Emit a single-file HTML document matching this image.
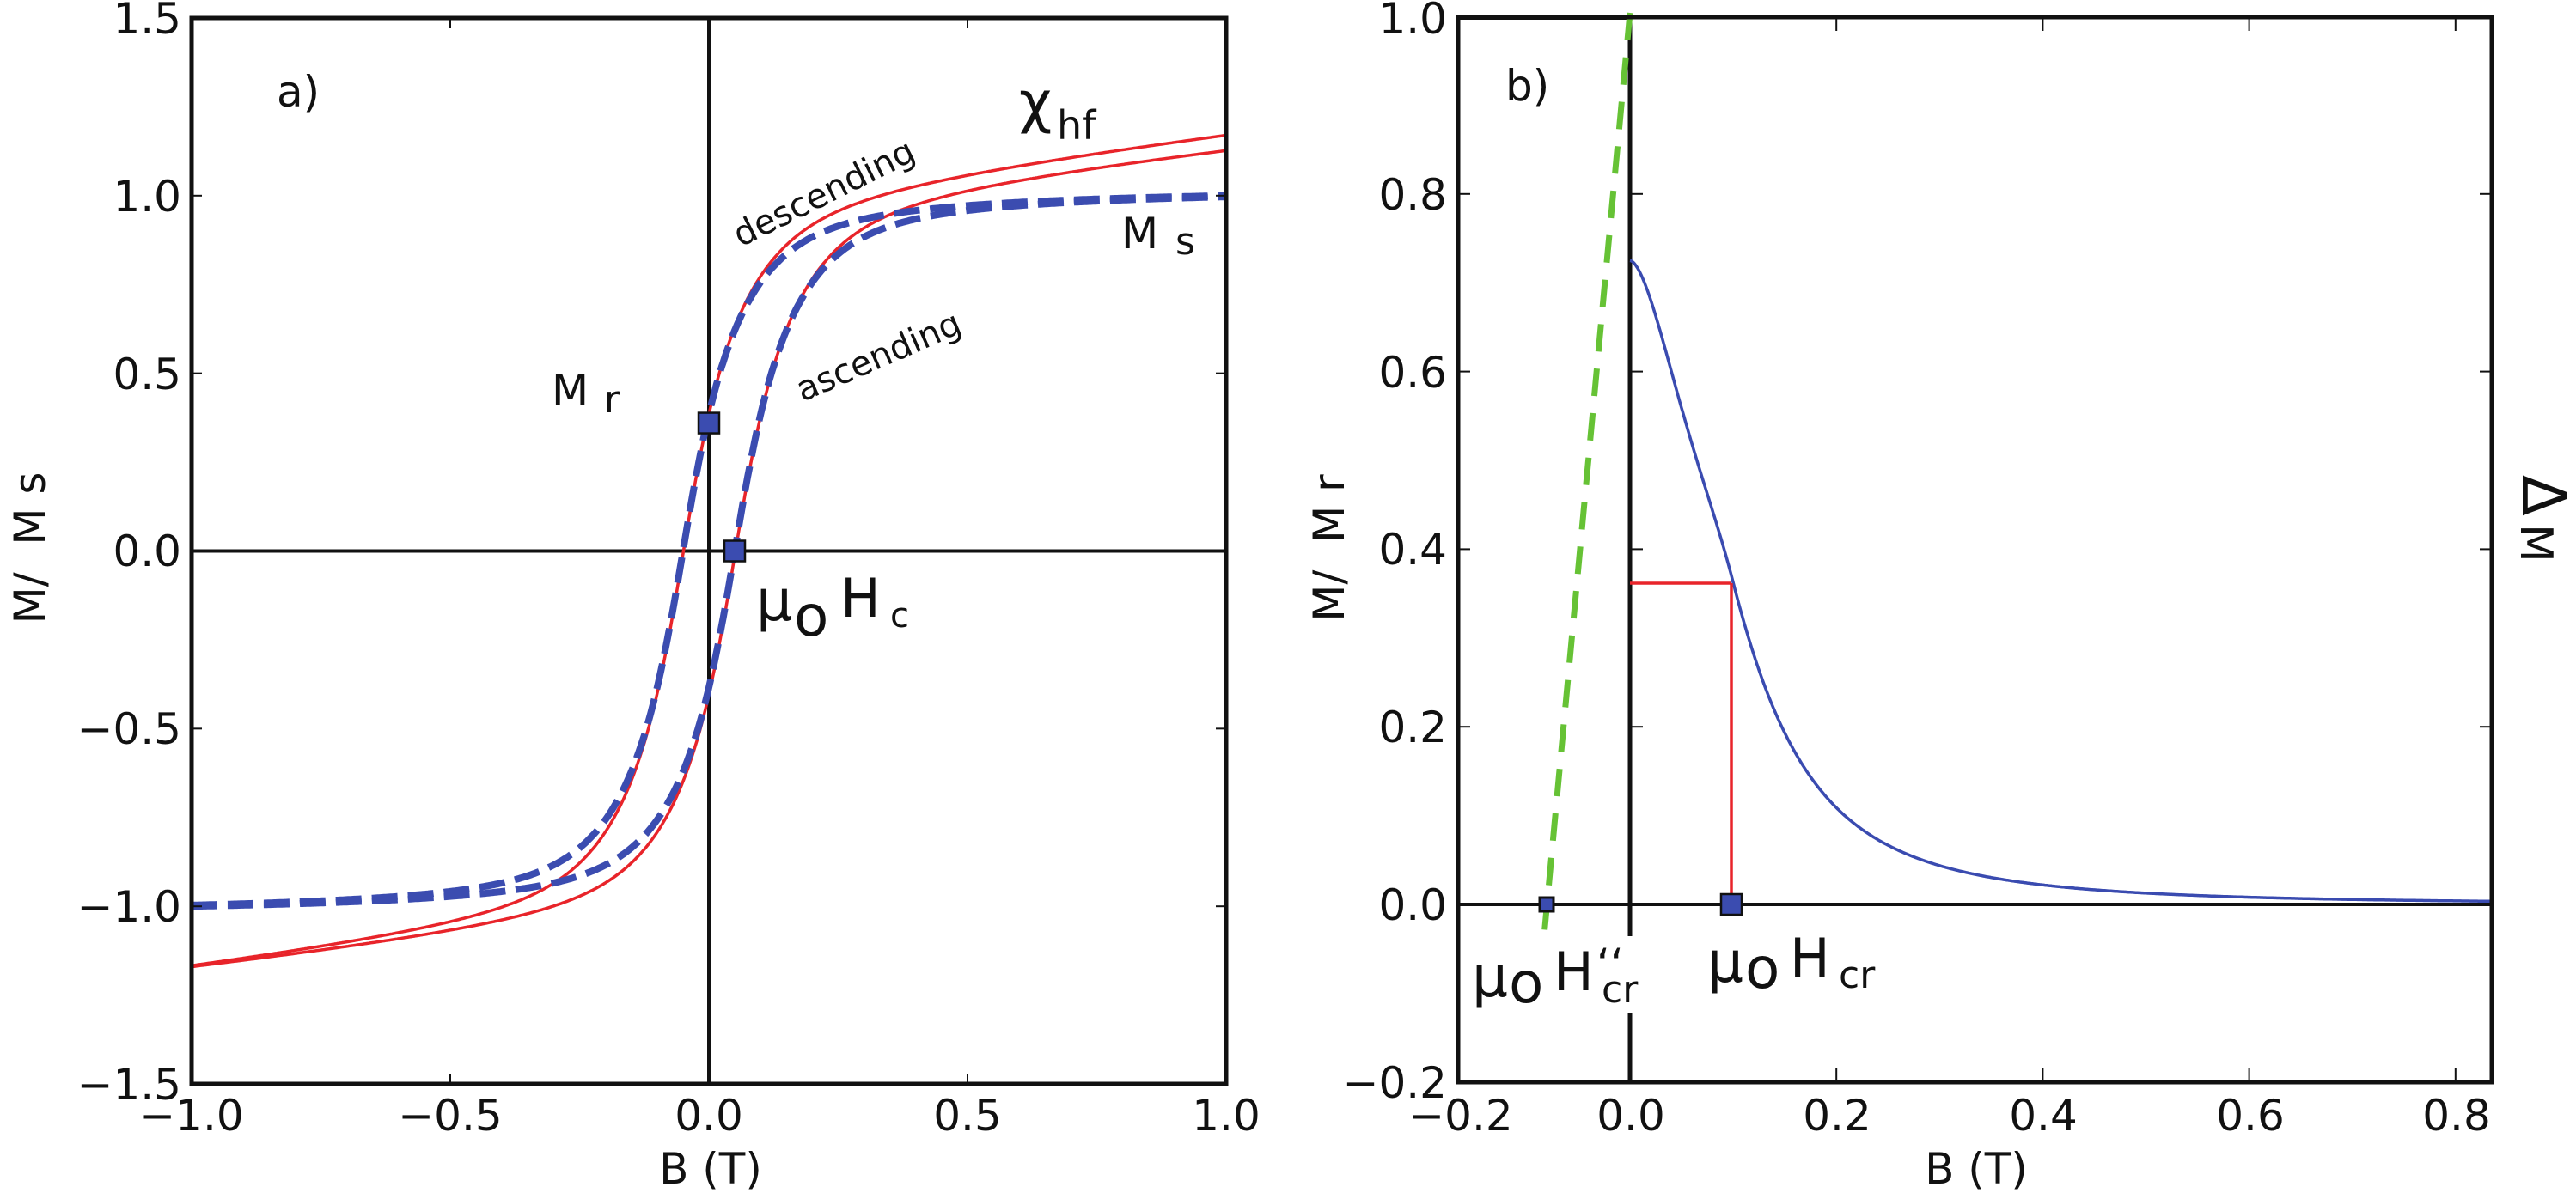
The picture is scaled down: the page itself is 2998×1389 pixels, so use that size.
<!DOCTYPE html>
<html><head><meta charset="utf-8"><style>
html,body{margin:0;padding:0;background:#fff}
svg{display:block}
text{font-family:"DejaVu Sans","Liberation Sans",sans-serif;fill:#111;white-space:pre}
</style></head><body>
<svg id="s" width="2998" height="1389" viewBox="0 0 2998 1389" xmlns="http://www.w3.org/2000/svg">
<g id="g"></g>
<g font-size="50">
<text x="211" y="39" text-anchor="end">1.5</text>
<text x="211" y="246" text-anchor="end">1.0</text>
<text x="211" y="453" text-anchor="end">0.5</text>
<text x="211" y="659" text-anchor="end">0.0</text>
<text x="211" y="866" text-anchor="end">−0.5</text>
<text x="211" y="1073" text-anchor="end">−1.0</text>
<text x="211" y="1280" text-anchor="end">−1.5</text>
<text x="223" y="1316" text-anchor="middle">−1.0</text>
<text x="524" y="1316" text-anchor="middle">−0.5</text>
<text x="825" y="1316" text-anchor="middle">0.0</text>
<text x="1126" y="1316" text-anchor="middle">0.5</text>
<text x="1427" y="1316" text-anchor="middle">1.0</text>
<text x="827" y="1378" text-anchor="middle">B (T)</text>
<text transform="translate(52,638) rotate(-90)" text-anchor="middle">M/&#160;&#160;M&#160;s</text>
<text x="322" y="124">a)</text>
</g>
<text x="1186" y="142" font-size="66">χ</text>
<text x="1230" y="162" font-size="46">hf</text>
<text transform="translate(862,288) rotate(-26.5)" font-size="40">descending</text>
<text transform="translate(934,468) rotate(-23.5)" font-size="40">ascending</text>
<text x="1305" y="289" font-size="50">M</text>
<text x="1368" y="296" font-size="44">s</text>
<text x="642" y="472" font-size="50">M</text>
<text x="703" y="480" font-size="44">r</text>
<text x="880" y="722" font-size="66">μ</text>
<text x="924" y="740" font-size="66">o</text>
<text x="978" y="718" font-size="62">H</text>
<text x="1036" y="730" font-size="40">c</text>
<g font-size="50">
<text x="1684" y="39" text-anchor="end">1.0</text>
<text x="1684" y="244" text-anchor="end">0.8</text>
<text x="1684" y="451" text-anchor="end">0.6</text>
<text x="1684" y="657" text-anchor="end">0.4</text>
<text x="1684" y="864" text-anchor="end">0.2</text>
<text x="1684" y="1071" text-anchor="end">0.0</text>
<text x="1684" y="1278" text-anchor="end">−0.2</text>
<text x="1700" y="1316" text-anchor="middle">−0.2</text>
<text x="1898" y="1316" text-anchor="middle">0.0</text>
<text x="2138" y="1316" text-anchor="middle">0.2</text>
<text x="2378" y="1316" text-anchor="middle">0.4</text>
<text x="2619" y="1316" text-anchor="middle">0.6</text>
<text x="2859" y="1316" text-anchor="middle">0.8</text>
<text x="2300" y="1378" text-anchor="middle">B (T)</text>
<text transform="translate(1564,638) rotate(-90)" text-anchor="middle">M/&#160;&#160;M&#160;r</text>
<text x="1752" y="117">b)</text>
</g>
<text transform="translate(2936,553) rotate(90)" font-size="70">Δ</text>
<text transform="translate(2934,610) rotate(90)" font-size="52">M</text>
<text x="1713" y="1160" font-size="66">μ</text>
<text x="1756" y="1167" font-size="66">o</text>
<text x="1808" y="1153" font-size="62">H</text>
<text x="1858" y="1140" font-size="50">‘‘</text>
<text x="1864" y="1167" font-size="44">cr</text>
<text x="1987" y="1143" font-size="66">μ</text>
<text x="2031" y="1150" font-size="66">o</text>
<text x="2083" y="1137" font-size="62">H</text>
<text x="2140" y="1150" font-size="44">cr</text>
</svg>
<script>
(function(){
var NS="http://www.w3.org/2000/svg",g=document.getElementById("g");
function el(t,a){var e=document.createElementNS(NS,t);for(var k in a)e.setAttribute(k,a[k]);g.appendChild(e);return e;}
function line(x1,y1,x2,y2,w,c){el("line",{x1:x1,y1:y1,x2:x2,y2:y2,stroke:c||"#111","stroke-width":w});}
var L={x0:223,x1:1427,y0:21,y1:1262};
function lx(b){return 825+b*602;} function ly(m){return 641.5-m*413.7;}
function F0(x){return 0.7*(2/Math.PI)*Math.atan(x/0.07)+0.3*Math.tanh(x/0.15);}
var N=F0(1.05);function F(x){return F0(x)/N;}
function pathL(fn){var d="";for(var i=0;i<=800;i++){var b=-1+i/400;d+=(i?"L":"M")+lx(b).toFixed(1)+","+ly(fn(b)).toFixed(1);}return d;}
var cl=el("clipPath",{id:"cl"});var r=document.createElementNS(NS,"rect");r.setAttribute("x",L.x0);r.setAttribute("y",L.y0);r.setAttribute("width",L.x1-L.x0);r.setAttribute("height",L.y1-L.y0);cl.appendChild(r);
line(825,L.y0,825,L.y1,4);line(L.x0,641.5,L.x1,641.5,4);
el("path",{d:pathL(function(b){return F(b+0.05)+0.17*b;}),fill:"none",stroke:"#e8242a","stroke-width":3.5,"clip-path":"url(#cl)"});
el("path",{d:pathL(function(b){return F(b-0.05)+0.15*b-0.02;}),fill:"none",stroke:"#e8242a","stroke-width":3.5,"clip-path":"url(#cl)"});
el("path",{d:pathL(function(b){return F(b+0.05);}),fill:"none",stroke:"#3b4cb0","stroke-width":8,"stroke-dasharray":"30 12","clip-path":"url(#cl)"});
el("path",{d:pathL(function(b){return F(b-0.05);}),fill:"none",stroke:"#3b4cb0","stroke-width":8,"stroke-dasharray":"30 12","clip-path":"url(#cl)"});
el("rect",{x:825-12,y:ly(0.36)-12,width:24,height:24,fill:"#3b4cb0",stroke:"#111","stroke-width":2.5});
el("rect",{x:855-12,y:641.5-12,width:24,height:24,fill:"#3b4cb0",stroke:"#111","stroke-width":2.5});
[-0.5,0,0.5].forEach(function(b){line(lx(b),L.y1,lx(b),L.y1-12,2);line(lx(b),L.y0,lx(b),L.y0+12,2);});
[1,0.5,0,-0.5,-1].forEach(function(m){line(L.x0,ly(m),L.x0+12,ly(m),2);line(L.x1,ly(m),L.x1-12,ly(m),2);});
el("rect",{x:L.x0,y:L.y0,width:L.x1-L.x0,height:L.y1-L.y0,fill:"none",stroke:"#111","stroke-width":5});
var R={x0:1697,x1:2900,y0:20,y1:1260};
function rx(b){return 1897+b*1201;} function ry(m){return 1053-m*1034;}
line(1897,R.y0,1897,1090,5);line(1897,1180,1897,R.y1,5);
line(R.x0,1053,R.x1,1053,4);
line(R.x0,R.y0,1897,R.y0,6);
el("line",{x1:1897,y1:15,x2:1797,y2:1090,stroke:"#66c235","stroke-width":7,"stroke-dasharray":"32 20"});
var d="";
for(var i=0;i<=835;i++){var b=i/1000;var u=b/0.1;var n=1.7+0.8*Math.pow(Math.min(u,1),4);var m=0.725/(1+Math.pow(u,n));d+=(i?"L":"M")+rx(b).toFixed(1)+","+ry(m).toFixed(1);}
el("path",{d:d,fill:"none",stroke:"#3a4bb0","stroke-width":3.5});
line(1897,679,2015,679,3.5,"#e8242a");line(2015,679,2015,1053,3.5,"#e8242a");
el("rect",{x:2015-12,y:1053-12,width:24,height:24,fill:"#3b4cb0",stroke:"#111","stroke-width":2.5});
el("rect",{x:1800-8,y:1053-8,width:16,height:16,fill:"#3b4cb0",stroke:"#111","stroke-width":3});
[0.2,0.4,0.6,0.8].forEach(function(b){line(rx(b),R.y1,rx(b),R.y1-16,2);line(rx(b),R.y0,rx(b),R.y0+16,2);});
[0.8,0.6,0.4,0.2].forEach(function(m){line(R.x0,ry(m),R.x0+14,ry(m),2);line(1897,ry(m),1912,ry(m),2);line(R.x1,ry(m),R.x1-14,ry(m),2);});
el("rect",{x:R.x0,y:R.y0,width:R.x1-R.x0,height:R.y1-R.y0,fill:"none",stroke:"#111","stroke-width":5});
})();
</script>
</body></html>
